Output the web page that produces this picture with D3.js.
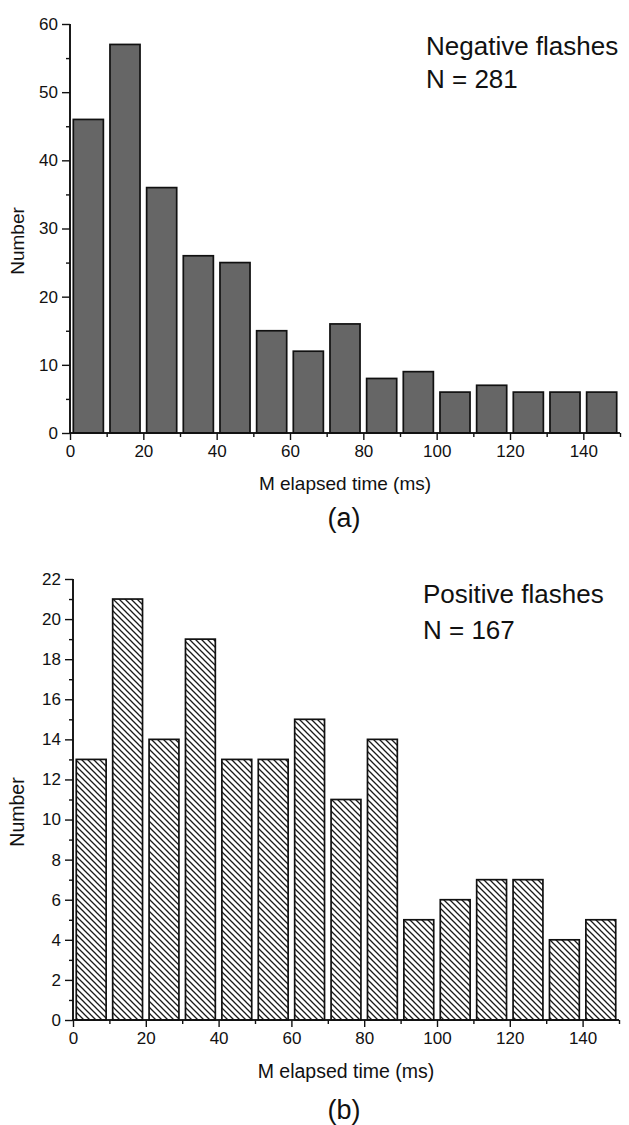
<!DOCTYPE html>
<html><head><meta charset="utf-8">
<script src="https://cdn.jsdelivr.net/npm/d3@7"></script>
<style>body{margin:0;background:#fff}svg{display:block}text{font-family:"Liberation Sans",Arial,sans-serif;fill:#111}</style>
</head><body>
<svg id="c" width="629" height="1125"></svg>
<script>
const binStarts = [0,10,20,30,40,50,60,70,80,90,100,110,120,130,140];
const negativeCounts = [46,57,36,26,25,15,12,16,8,9,6,7,6,6,6];
const positiveCounts = [13,21,14,19,13,13,15,11,14,5,6,7,7,4,5];
const xMajorTicks = [0,20,40,60,80,100,120,140];
const xMinorTicks = [10,30,50,70,90,110,130,150];
const negYMajor = [0,10,20,30,40,50,60];
const negYMinor = [5,15,25,35,45,55];
const posYMajor = [0,2,4,6,8,10,12,14,16,18,20,22];
const posYMinor = [1,3,5,7,9,11,13,15,17,19,21];

const svg = d3.select("#c");
const defs = svg.append("defs");
const P = 6;
const pat = defs.append("pattern").attr("id","hatch").attr("patternUnits","userSpaceOnUse")
  .attr("width",P).attr("height",P);
pat.append("rect").attr("width",P).attr("height",P).attr("fill","#fff");
pat.append("path").attr("d",`M0,0L${P},${P}M-1,${P-1}L1,${P+1}M${P-1},-1L${P+1},1`).attr("stroke","#1a1a1a").attr("stroke-width",1.3);

function panel(o){
  const x = d3.scaleLinear().domain([0,150]).range([o.x0,o.x1]);
  const y = d3.scaleLinear().domain([0,o.ymax]).range([o.y0,o.y1]);
  const g = svg.append("g");
  g.selectAll("rect.bar").data(o.values).join("rect").attr("class","bar")
    .attr("x",(d,i)=>x(binStarts[i]+0.9)).attr("width",x(8.2)-x(0))
    .attr("y",d=>y(d)).attr("height",d=>y(0)-y(d))
    .attr("fill",o.fill).attr("stroke","#111").attr("stroke-width",1.7);
  const xa = g.append("g").attr("transform",`translate(0,${o.y0})`)
    .call(d3.axisBottom(x).tickValues(xMajorTicks).tickSize(7).tickPadding(5).tickFormat(d3.format("d")));
  xa.append("g").call(d3.axisBottom(x).tickValues(xMinorTicks).tickSize(4).tickFormat(""));
  const ya = g.append("g").attr("transform",`translate(${o.x0},0)`)
    .call(d3.axisLeft(y).tickValues(o.yMajor).tickSize(8).tickPadding(4).tickFormat(d3.format("d")));
  ya.append("g").call(d3.axisLeft(y).tickValues(o.yMinor).tickSize(4).tickFormat(""));
  g.selectAll(".domain").attr("stroke","#111").attr("stroke-width",1.6);
  g.selectAll(".tick line").attr("stroke","#111").attr("stroke-width",1.4);
  g.selectAll(".tick text").style("font-size","17px").style("font-family",'"Liberation Sans",Arial,sans-serif').attr("fill","#222");
  xa.selectAll("g.tick text").attr("dy","0.71em");
  xa.selectAll("path.domain").attr("d",`M${o.x0},0H${o.x1}`);
  ya.selectAll("path.domain").attr("d",`M0,${o.y0}V${o.y1}`);
  g.append("text").attr("x",(o.x0+o.x1)/2).attr("y",o.xlabY).attr("text-anchor","middle")
    .style("font-size",o.labFs+"px").text("M elapsed time (ms)");
  g.append("text").attr("transform",`translate(24,${o.ylabC}) rotate(-90)`).attr("text-anchor","middle")
    .style("font-size",o.labFs+"px").text("Number");
  g.append("text").attr("x",o.annX).attr("y",o.annY).style("font-size","26px").text(o.title);
  g.append("text").attr("x",o.annX).attr("y",o.annY+o.annGap).style("font-size","26px").text(o.ntext);
  g.append("text").attr("x",344).attr("y",o.subY).attr("text-anchor","middle").style("font-size","27px").text(o.sub);
}

panel({x0:70,x1:620,y0:433,y1:24,ymax:60,values:negativeCounts,fill:"#666666",
  yMajor:negYMajor,yMinor:negYMinor,xlabY:490,ylabC:241,labFs:19,
  annX:426,annY:55,annGap:33,title:"Negative flashes",ntext:"N = 281",sub:"(a)",subY:527});
panel({x0:73,x1:619,y0:1020,y1:579,ymax:22,values:positiveCounts,fill:"url(#hatch)",
  yMajor:posYMajor,yMinor:posYMinor,xlabY:1078,ylabC:812,labFs:19.5,
  annX:423,annY:603,annGap:36,title:"Positive flashes",ntext:"N = 167",sub:"(b)",subY:1119});
</script>
</body></html>
